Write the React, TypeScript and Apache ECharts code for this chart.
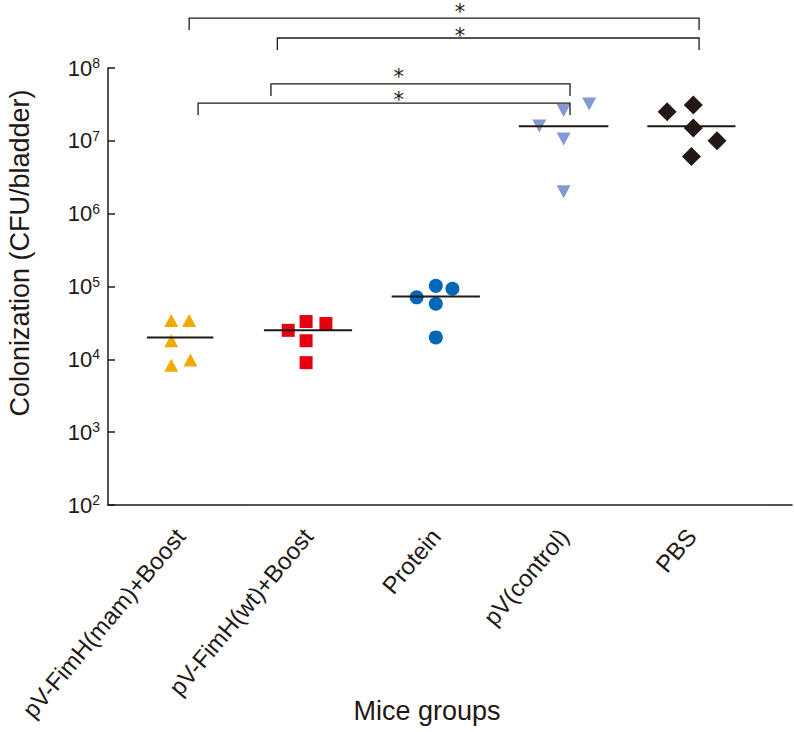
import React, { useEffect, useRef } from "react";
import * as echarts from "echarts";

// ---- data ----
const groups = ["pV-FimH(mam)+Boost", "pV-FimH(wt)+Boost", "Protein", "pV(control)", "PBS"];
const groupPos = [1, 2, 3, 4, 5];
const yTickExponents = [2, 3, 4, 5, 6, 7, 8];

const mamValues = [3.4e4, 3.4e4, 1.8e4, 8.3e3, 9.8e3];
const mamJitter = [-0.07, 0.07, -0.07, -0.07, 0.08];
const wtValues = [2.5e4, 3.3e4, 3.1e4, 1.8e4, 9.0e3];
const wtJitter = [-0.155, -0.015, 0.14, -0.015, -0.015];
const proteinValues = [7.1e4, 1.02e5, 9.3e4, 5.8e4, 2.0e4];
const proteinJitter = [-0.15, 0, 0.13, 0, 0];
const controlValues = [1.6e7, 2.6e7, 3.2e7, 1.06e7, 2.0e6];
const controlJitter = [-0.19, 0, 0.2, 0, 0];
const pbsValues = [2.5e7, 3.1e7, 1.5e7, 1.0e7, 6.1e6];
const pbsJitter = [-0.19, 0.015, 0.015, 0.2, 0];
const groupMeans = [2.0e4, 2.5e4, 7.3e4, 1.58e7, 1.58e7];
const meanHalfWidth = [0.26, 0.345, 0.345, 0.35, 0.345];

// significance brackets (x in group units, level in CFU)
const bracketFrom = [1.07, 1.76, 1.71, 1.14];
const bracketTo = [5.06, 5.06, 4.05, 4.05];
const bracketLevel = [4.84e8, 2.58e8, 6.05e7, 3.3e7];
const bracketStarX = [3.19, 3.19, 2.71, 2.71];
const bracketStarLevel = [6.65e8, 3.1e8, 8.5e7, 4.1e7];
const bracketLabel = ["*", "*", "*", "*"];

const INK = "#231815";
const FONT = "'Liberation Sans', Arial, sans-serif";

function pts(values: number[], jitter: number[], g: number) {
  return values.map((v, i) => [groupPos[g] + jitter[i], v]);
}

export default function App() {
  const ref = useRef<HTMLDivElement>(null);
  useEffect(() => {
    if (!ref.current) return;
    const chart = echarts.init(ref.current, undefined, { renderer: "svg" });
    const scatterBase = { type: "scatter", z: 3 } as any;
    const option: any = {
      animation: false,
      backgroundColor: "#ffffff",
      grid: { left: 108, right: 2, top: 68, bottom: 227, containLabel: false, outerBoundsMode: "none" },
      xAxis: {
        type: "value",
        min: 0.435,
        max: 5.787,
        axisLine: { show: true, onZero: false, lineStyle: { color: INK, width: 1.5 } },
        axisTick: { show: false },
        splitLine: { show: false },
        axisLabel: {
          customValues: groupPos,
          formatter: (v: number) => groups[Math.round(v) - 1] ?? "",
          rotate: 50,
          margin: 27,
          fontSize: 24,
          fontFamily: FONT,
          color: INK,
        },
      },
      yAxis: {
        type: "log",
        logBase: 10,
        min: Math.pow(10, yTickExponents[0]),
        max: Math.pow(10, yTickExponents[yTickExponents.length - 1]),
        axisLine: { show: true, lineStyle: { color: INK, width: 1.5 } },
        axisTick: { show: true, inside: true, length: 7, lineStyle: { color: INK, width: 1.5 } },
        splitLine: { show: false },
        axisLabel: {
          margin: 8,
          formatter: (v: number) => `{b|10}{s|${Math.round(Math.log10(v))}}`,
          rich: {
            b: { fontSize: 22, lineHeight: 24, fontFamily: FONT, color: INK },
            s: { fontSize: 14, lineHeight: 14, verticalAlign: "top", fontFamily: FONT, color: INK },
          },
        },
      },
      graphic: [
        {
          type: "text",
          x: 20,
          y: 253,
          rotation: Math.PI / 2,
          style: {
            text: "Colonization (CFU/bladder)",
            fontSize: 27,
            fontFamily: FONT,
            fill: INK,
            textAlign: "center",
            textVerticalAlign: "middle",
          },
        },
        {
          type: "text",
          x: 427,
          y: 711,
          style: {
            text: "Mice groups",
            fontSize: 27,
            fontFamily: FONT,
            fill: INK,
            textAlign: "center",
            textVerticalAlign: "middle",
          },
        },
      ],
      series: [
        { ...scatterBase, name: groups[0], symbol: "triangle", symbolSize: [14, 13], itemStyle: { color: "#F2A900", opacity: 1 }, data: pts(mamValues, mamJitter, 0) },
        { ...scatterBase, name: groups[1], symbol: "rect", symbolSize: 13, itemStyle: { color: "#E60012", opacity: 1 }, data: pts(wtValues, wtJitter, 1) },
        { ...scatterBase, name: groups[2], symbol: "circle", symbolSize: 14, itemStyle: { color: "#0068B7", opacity: 1 }, data: pts(proteinValues, proteinJitter, 2) },
        { ...scatterBase, name: groups[3], symbol: "triangle", symbolRotate: 180, symbolSize: [14, 13], itemStyle: { color: "#8299D3", opacity: 1 }, data: pts(controlValues, controlJitter, 3) },
        { ...scatterBase, name: groups[4], symbol: "diamond", symbolSize: [19, 19], itemStyle: { color: INK, opacity: 1 }, data: pts(pbsValues, pbsJitter, 4) },
        {
          type: "custom",
          name: "mean",
          z: 4,
          encode: { x: 0, y: 1 },
          data: groupMeans.map((m, i) => [groupPos[i], m, meanHalfWidth[i]]),
          renderItem: (_p: any, api: any) => {
            const x = api.value(0), y = api.value(1), hw = api.value(2);
            const a = api.coord([x - hw, y]);
            const b = api.coord([x + hw, y]);
            return {
              type: "line",
              shape: { x1: a[0], y1: a[1], x2: b[0], y2: b[1] },
              style: { stroke: INK, lineWidth: 2 },
            };
          },
        },
        {
          type: "custom",
          name: "brackets",
          clip: false,
          z: 5,
          encode: { x: 0, y: 2 },
          data: bracketFrom.map((f, i) => [f, bracketTo[i], bracketLevel[i], bracketStarX[i], bracketStarLevel[i]]),
          renderItem: (p: any, api: any) => {
            const a = api.coord([api.value(0), api.value(2)]);
            const b = api.coord([api.value(1), api.value(2)]);
            const s = api.coord([api.value(3), api.value(4)]);
            const drop = 12;
            return {
              type: "group",
              children: [
                {
                  type: "polyline",
                  shape: { points: [[a[0], a[1] + drop], [a[0], a[1]], [b[0], b[1]], [b[0], b[1] + drop]] },
                  style: { stroke: INK, lineWidth: 1.3, fill: null },
                },
                {
                  type: "text",
                  x: s[0],
                  y: s[1] + 4,
                  style: {
                    text: bracketLabel[p.dataIndex],
                    fontSize: 21,
                    lineHeight: 16,
                    fontFamily: "'DejaVu Sans', sans-serif",
                    fill: INK,
                    textAlign: "center",
                    textVerticalAlign: "middle",
                  },
                },
              ],
            };
          },
        },
      ],
    };
    chart.setOption(option);
    return () => chart.dispose();
  }, []);
  return (
    <div
      ref={ref}
      style={{ position: "fixed", left: 0, top: 0, width: 794, height: 732, background: "#fff" }}
    />
  );
}
